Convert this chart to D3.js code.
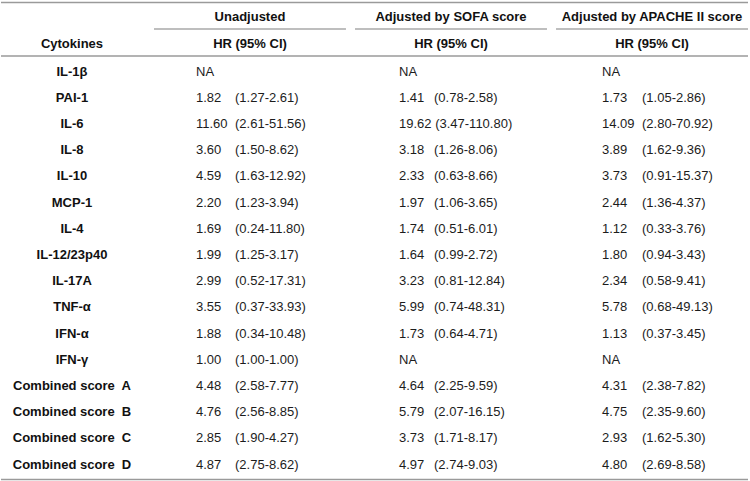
<!DOCTYPE html>
<html>
<head>
<meta charset="utf-8">
<script src="https://cdn.jsdelivr.net/npm/d3@7"></script>
<style>
  html, body { margin: 0; padding: 0; background: #fff; }
  svg text { font-family: "Liberation Sans", Arial, sans-serif; white-space: pre; }
</style>
</head>
<body>
<svg id="chart" width="750" height="481"></svg>
<script>
// ---- data ----
const cytokines = ["IL-1β", "PAI-1", "IL-6", "IL-8", "IL-10", "MCP-1", "IL-4", "IL-12/23p40",
  "IL-17A", "TNF-α", "IFN-α", "IFN-γ", "Combined score  A", "Combined score  B",
  "Combined score  C", "Combined score  D"];
const groups = ["Unadjusted", "Adjusted by SOFA score", "Adjusted by APACHE II score"];
const subHeader = "HR (95% CI)";
const rowHeader = "Cytokines";

const unadjHR   = [null, 1.82, 11.60, 3.60, 4.59, 2.20, 1.69, 1.99, 2.99, 3.55, 1.88, 1.00, 4.48, 4.76, 2.85, 4.87];
const unadjLow  = [null, 1.27, 2.61, 1.50, 1.63, 1.23, 0.24, 1.25, 0.52, 0.37, 0.34, 1.00, 2.58, 2.56, 1.90, 2.75];
const unadjHigh = [null, 2.61, 51.56, 8.62, 12.92, 3.94, 11.80, 3.17, 17.31, 33.93, 10.48, 1.00, 7.77, 8.85, 4.27, 8.62];

const sofaHR   = [null, 1.41, 19.62, 3.18, 2.33, 1.97, 1.74, 1.64, 3.23, 5.99, 1.73, null, 4.64, 5.79, 3.73, 4.97];
const sofaLow  = [null, 0.78, 3.47, 1.26, 0.63, 1.06, 0.51, 0.99, 0.81, 0.74, 0.64, null, 2.25, 2.07, 1.71, 2.74];
const sofaHigh = [null, 2.58, 110.80, 8.06, 8.66, 3.65, 6.01, 2.72, 12.84, 48.31, 4.71, null, 9.59, 16.15, 8.17, 9.03];

const apacheHR   = [null, 1.73, 14.09, 3.89, 3.73, 2.44, 1.12, 1.80, 2.34, 5.78, 1.13, null, 4.31, 4.75, 2.93, 4.80];
const apacheLow  = [null, 1.05, 2.80, 1.62, 0.91, 1.36, 0.33, 0.94, 0.58, 0.68, 0.37, null, 2.38, 2.35, 1.62, 2.69];
const apacheHigh = [null, 2.86, 70.92, 9.36, 15.37, 4.37, 3.76, 3.43, 9.41, 49.13, 3.45, null, 7.82, 9.60, 5.30, 8.58];

// ---- build ----
const series = [
  {group: groups[0], hr: unadjHR, lo: unadjLow, hi: unadjHigh},
  {group: groups[1], hr: sofaHR, lo: sofaLow, hi: sofaHigh},
  {group: groups[2], hr: apacheHR, lo: apacheLow, hi: apacheHigh}
];

// layout (per column text offsets inside each band)
const hrOffsets = [42, 44, 46];
const ciOffsets = [39, 35, 40];

const svg = d3.select("#chart");
const fmt = d3.format(".2f");

const x = d3.scaleBand().domain(groups).range([154, 748]).paddingInner(0.045).paddingOuter(0);
const y = d3.scalePoint().domain(cytokines).range([71, 464]);
const labelX = 72;

const lineColor = "#9a9a9a";

// horizontal rules
[2.5, 56, 479.5].forEach(yy => {
  svg.append("line").attr("x1", 1).attr("x2", 748).attr("y1", yy).attr("y2", yy)
    .attr("stroke", lineColor).attr("stroke-width", 1.6);
});

// group header rules
svg.selectAll("line.grp").data(groups).join("line").attr("class", "grp")
  .attr("x1", d => x(d)).attr("x2", d => x(d) + x.bandwidth())
  .attr("y1", 29).attr("y2", 29)
  .attr("stroke", "#a8a8a8").attr("stroke-width", 1.4);

// group header texts
svg.selectAll("text.grp").data(groups).join("text").attr("class", "grp")
  .attr("x", d => x(d) + x.bandwidth() / 2).attr("y", 16)
  .attr("text-anchor", "middle").attr("dominant-baseline", "central")
  .attr("font-size", 13).attr("font-weight", "bold").attr("fill", "#111")
  .text(d => d);

svg.selectAll("text.sub").data(groups).join("text").attr("class", "sub")
  .attr("x", d => x(d) + x.bandwidth() / 2).attr("y", 43)
  .attr("text-anchor", "middle").attr("dominant-baseline", "central")
  .attr("font-size", 13).attr("font-weight", "bold").attr("fill", "#111")
  .text(subHeader);

svg.append("text").attr("x", labelX).attr("y", 43)
  .attr("text-anchor", "middle").attr("dominant-baseline", "central")
  .attr("font-size", 13).attr("font-weight", "bold").attr("fill", "#111")
  .text(rowHeader);

// row labels
svg.selectAll("text.row").data(cytokines).join("text").attr("class", "row")
  .attr("x", labelX).attr("y", d => y(d))
  .attr("text-anchor", "middle").attr("dominant-baseline", "central")
  .attr("font-size", 13).attr("font-weight", "bold").attr("fill", "#111")
  .text(d => d);

// cells
series.forEach((s, si) => {
  const base = x(s.group) + hrOffsets[si];
  const cells = cytokines.map((c, i) => ({c, hr: s.hr[i], lo: s.lo[i], hi: s.hi[i]}));
  const g = svg.append("g");
  const hrText = g.selectAll("text.hr").data(cells).join("text").attr("class", "hr")
    .attr("x", base).attr("y", d => y(d.c))
    .attr("dominant-baseline", "central")
    .attr("font-size", 13).attr("fill", "#1c1c1c")
    .text(d => d.hr == null ? "NA" : fmt(d.hr));
  g.selectAll("text.ci").data(cells.filter(d => d.hr != null)).join("text").attr("class", "ci")
    .attr("y", d => y(d.c))
    .attr("dominant-baseline", "central")
    .attr("font-size", 13).attr("fill", "#1c1c1c")
    .text(d => "(" + fmt(d.lo) + "-" + fmt(d.hi) + ")")
    .attr("x", function(d) {
      const node = hrText.filter(e => e.c === d.c).node();
      const w = node.getComputedTextLength();
      return Math.max(base + ciOffsets[si], base + w + 3.6);
    });
});
</script>
</body>
</html>
